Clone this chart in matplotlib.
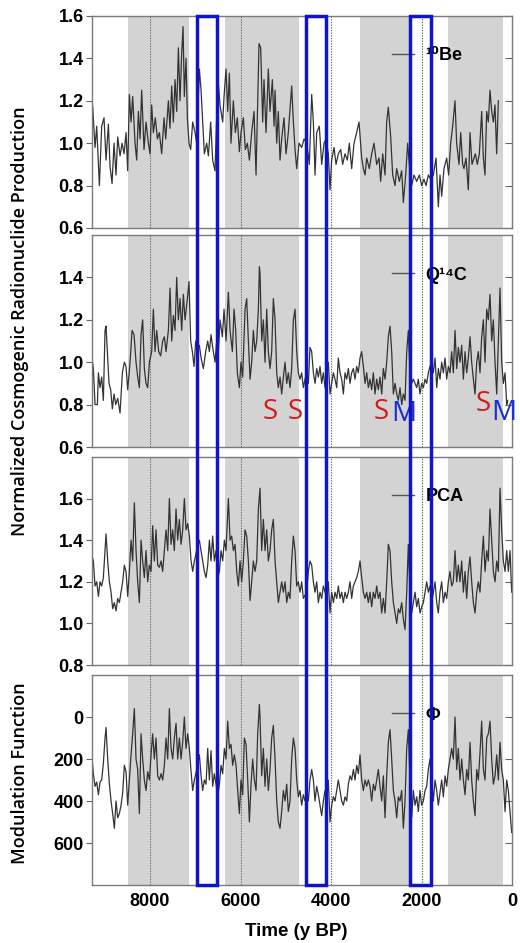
import matplotlib
matplotlib.use("Agg")
import matplotlib.pyplot as plt
from matplotlib.patches import Rectangle
import matplotlib.transforms as mtransforms

# ---- data (years BP, values) ----
be10_year = [9266, 9215, 9178, 9119, 9068, 9016, 8972, 8920, 8883, 8839, 8795, 8751, 8714, 8662, 8618, 8574,
             8530, 8493, 8456, 8419, 8383, 8331, 8294, 8257, 8220, 8184, 8132, 8088, 8036, 8000, 7963, 7926,
             7882, 7837, 7793, 7742, 7690, 7653, 7594, 7558, 7521, 7484, 7447, 7410, 7373, 7337, 7300, 7270,
             7241, 7204, 7174, 7138, 7101, 7057, 7005, 6968, 6909, 6872, 6836, 6799, 6747, 6710, 6659, 6615,
             6563, 6526, 6489, 6453, 6394, 6364, 6320, 6283, 6246, 6210, 6158, 6114, 6070, 6025, 5989, 5937,
             5893, 5849, 5804, 5753, 5701, 5657, 5620, 5591,
             5554, 5510, 5480, 5436, 5385, 5348, 5296, 5259, 5237, 5200, 5164, 5127, 5090, 5038, 4994, 4943,
             4869, 4832, 4795, 4758, 4707, 4648, 4596, 4537, 4479, 4427, 4390, 4353, 4316, 4258, 4206, 4154,
             4110, 4059, 4022, 3985, 3933, 3889, 3838, 3786, 3742, 3690, 3639, 3595, 3543, 3491, 3433, 3381,
             3322, 3285, 3248, 3212, 3153, 3101, 3050, 2991, 2939, 2902, 2858, 2806, 2770, 2733, 2681, 2637,
             2585, 2549, 2490, 2438, 2401, 2350, 2306, 2269, 2217, 2166, 2107, 2048, 1996, 1945, 1900, 1849,
             1797, 1738, 1679, 1628, 1591, 1554, 1503, 1444, 1400, 1355, 1311, 1260, 1223, 1171, 1134, 1090,
             1061, 1017, 965, 928, 884, 854, 810, 766, 722, 670, 633, 597, 560, 523, 486, 449,
             412, 376, 339, 302]
be10_val = [1.17, 0.98, 1.08, 0.80, 1.08, 1.12, 0.92, 1.09, 0.89, 0.81, 1.00, 0.85, 1.03, 0.94, 1.00, 0.95,
            1.05, 0.87, 1.23, 1.10, 1.22, 1.00, 0.92, 1.15, 1.02, 1.25, 0.97, 1.10, 1.00, 0.95, 1.18, 1.05,
            1.12, 1.02, 1.05, 0.95, 1.12, 1.02, 1.20, 1.07, 1.27, 1.10, 1.30, 1.15, 1.45, 1.20, 1.42, 1.55,
            1.22, 1.40, 1.12, 1.00, 0.97, 1.10, 1.05, 1.00, 1.35, 1.25, 1.10, 0.95, 1.00, 0.94, 1.10, 0.92,
            0.87, 1.13, 1.28, 1.18, 1.10, 1.22, 1.35, 1.15, 1.33, 1.00, 1.20, 1.05, 1.12, 0.96, 1.05, 1.12,
            0.97, 1.00, 0.92, 1.05, 1.15, 0.85, 1.20, 1.47,
            1.45, 1.10, 1.30, 1.05, 1.35, 1.15, 1.30, 1.08, 1.25, 1.00, 1.15, 0.92, 1.02, 1.12, 0.95, 1.05,
            1.27, 1.10, 0.97, 0.88, 1.00, 0.98, 1.02, 1.00, 0.90, 1.23, 1.10, 0.85, 1.05, 1.08, 0.90, 1.00,
            1.02, 0.95, 0.78, 0.92, 0.98, 0.90, 0.95, 0.97, 0.90, 0.95, 0.92, 1.00, 0.88, 1.00, 1.05, 1.10,
            0.93, 0.88, 0.85, 0.93, 0.88, 0.95, 1.00, 0.90, 0.93, 0.82, 0.95, 0.85, 1.10, 1.17, 1.03, 0.85,
            0.80, 0.88, 0.82, 0.87, 0.72, 0.85, 1.00, 0.90, 0.80, 0.85, 0.82, 0.85, 0.80, 0.83, 0.80, 0.85,
            0.83, 0.85, 0.93, 0.70, 0.85, 0.75, 0.88, 0.93, 0.85, 1.00, 1.08, 1.20, 1.00, 0.90, 1.05, 0.90,
            0.88, 0.93, 0.78, 1.05, 0.90, 0.92, 0.95, 0.90, 0.95, 1.15, 0.93, 0.85, 1.15, 1.10, 1.25, 1.15,
            1.10, 1.18, 0.95, 1.20]

q14c_year = [9289, 9252, 9215, 9163, 9141, 9105, 9068, 9031, 8994, 8972, 8942, 8906, 8869, 8832, 8795, 8758,
             8714, 8662, 8611, 8567, 8530, 8493, 8441, 8397, 8353, 8309, 8272, 8235, 8198, 8162, 8125, 8088,
             8051, 8014, 7963, 7926, 7889, 7852, 7808, 7764, 7720, 7683, 7646, 7594, 7557, 7521, 7484, 7447,
             7410, 7373, 7336, 7300, 7263, 7226, 7174, 7138, 7101, 7064, 7027, 6990, 6954, 6909, 6872, 6821,
             6769, 6725, 6688, 6651, 6615, 6563, 6526, 6489, 6452, 6401, 6364, 6320, 6268, 6231, 6180, 6143,
             6106, 6070, 6025, 5989, 5952, 5900, 5863, 5826, 5789, 5753, 5716, 5679, 5642, 5605, 5583,
             5569, 5532, 5495, 5458, 5421, 5385, 5348, 5311, 5274, 5237, 5200, 5164, 5127, 5090, 5053, 5016,
             4979, 4943, 4906, 4869, 4832, 4795, 4758, 4722, 4685, 4648, 4611, 4574, 4537, 4501, 4464, 4427,
             4390, 4353, 4316, 4280, 4243, 4206, 4169, 4132, 4095, 4059, 4022, 3985, 3948, 3911, 3874, 3838,
             3801, 3764, 3727, 3690, 3653, 3617, 3580, 3543, 3506, 3469, 3432, 3396, 3359, 3322, 3285, 3248,
             3211, 3175, 3138, 3101, 3064, 3027, 2990, 2954, 2917, 2880, 2843, 2806, 2769, 2733, 2696, 2659,
             2622, 2585, 2548, 2512, 2475, 2438, 2401, 2364, 2327, 2291, 2254, 2217, 2180, 2106, 2070, 2033,
             1996, 1959, 1922, 1885, 1849, 1812, 1775, 1738, 1701, 1664, 1628, 1591, 1554, 1517, 1480, 1443,
             1407, 1370, 1333, 1296, 1259, 1222, 1186, 1149, 1112, 1075, 1038, 1001, 965, 928, 891, 854,
             817, 780, 744, 707, 670, 633, 596, 559, 523, 486, 449, 412, 375, 338, 302, 265,
             228, 191, 154, 117, 95]
q14c_val = [1.03, 0.97, 0.80, 0.80, 0.95, 0.88, 0.93, 0.82, 1.15, 1.17, 1.05, 0.90, 0.87, 0.78, 0.85, 0.80,
            0.83, 0.76, 0.95, 1.00, 0.98, 0.87, 1.00, 1.15, 1.13, 1.00, 0.93, 0.88, 1.13, 1.20, 0.97, 0.90,
            0.88, 1.00, 1.05, 1.25, 1.05, 1.15, 1.05, 1.03, 1.10, 1.12, 1.05, 1.15, 1.35, 1.10, 1.22, 1.15,
            1.40, 1.20, 1.30, 1.15, 1.32, 1.20, 1.30, 1.38, 1.10, 1.05, 0.98, 1.10, 1.05, 1.08, 1.02, 0.97,
            1.05, 1.10, 1.05, 1.13, 1.07, 1.00, 1.10, 1.05, 1.20, 1.12, 1.25, 1.10, 1.33, 1.15, 1.05, 1.25,
            1.15, 0.95, 0.88, 1.00, 0.93, 1.25, 1.30, 1.10, 0.92, 1.00, 1.15, 1.05, 1.10, 1.25, 1.45,
            1.42, 1.10, 1.20, 1.00, 1.25, 1.05, 0.97, 1.05, 1.30, 1.20, 0.95, 0.88, 0.93, 0.85, 0.93, 1.00,
            0.90, 0.95, 0.88, 0.97, 1.20, 1.25, 1.05, 0.95, 0.92, 0.95, 0.88, 0.92, 0.95, 0.90, 1.07, 1.05,
            0.95, 0.90, 0.97, 0.93, 0.98, 0.90, 0.95, 0.88, 0.97, 1.00, 0.85, 0.90, 0.95, 0.92, 0.88, 1.02,
            0.95, 0.92, 0.85, 0.95, 0.92, 0.97, 0.90, 0.95, 0.97, 0.92, 0.98, 0.95, 1.02, 1.05, 0.98, 0.90,
            0.95, 0.88, 0.92, 0.87, 0.95, 0.85, 0.92, 0.87, 0.93, 0.85, 0.97, 0.92, 1.00, 1.12, 1.17, 1.05,
            0.85, 0.90, 0.85, 0.82, 0.88, 0.80, 0.85, 0.82, 1.05, 1.15, 0.95, 0.90, 0.92, 0.88, 0.92, 0.85,
            0.90, 0.88, 0.92, 0.90, 0.95, 0.98, 1.00, 0.95, 1.02, 0.88, 0.97, 0.92, 1.00, 0.95, 1.02, 0.92,
            0.98, 0.95, 1.05, 0.95, 1.15, 0.97, 1.07, 1.00, 1.08, 0.92, 1.05, 0.95, 1.02, 1.12, 1.00, 0.92,
            0.85, 1.00, 1.05, 0.95, 1.12, 1.20, 1.00, 1.25, 1.20, 1.32, 1.10, 1.20, 1.00, 0.85, 1.10, 1.35,
            1.00, 0.90, 0.95, 0.80, 0.82]

pca_year = [9289, 9252, 9215, 9178, 9141, 9105, 9068, 9031, 8994, 8972, 8935, 8898, 8861, 8825, 8788, 8751,
            8714, 8677, 8640, 8604, 8567, 8530, 8493, 8456, 8419, 8383, 8346, 8309, 8272, 8235, 8198, 8162,
            8125, 8088, 8051, 8014, 7977, 7941, 7904, 7867, 7830, 7793, 7756, 7720, 7683, 7646, 7609, 7572,
            7535, 7499, 7462, 7425, 7388, 7351, 7314, 7278, 7241, 7204, 7167, 7130, 7093, 7057, 7020, 6968,
            6909, 6872, 6836, 6799, 6762, 6725, 6688, 6651, 6615, 6578, 6541, 6504, 6467, 6430, 6394, 6357,
            6320, 6268, 6231, 6195, 6158, 6121, 6084, 6047, 6010, 5974, 5937, 5900, 5863, 5826, 5789, 5753,
            5716, 5679, 5642, 5605,
            5569, 5532, 5495, 5458, 5421, 5385, 5348, 5311, 5274, 5237, 5200, 5164, 5127, 5090, 5053, 5016,
            4979, 4943, 4906, 4869, 4832, 4795, 4758, 4722, 4685, 4648, 4611, 4537, 4501, 4464, 4427, 4390,
            4353, 4316, 4280, 4243, 4206, 4169, 4132, 4095, 4059, 4022, 3985, 3948, 3911, 3874, 3838, 3801,
            3764, 3727, 3690, 3653, 3617, 3580, 3543, 3506, 3469, 3432, 3396, 3359, 3322, 3285, 3248, 3211,
            3175, 3138, 3101, 3064, 3027, 2990, 2954, 2917, 2880, 2843, 2806, 2769, 2733, 2696, 2659, 2622,
            2585, 2548, 2512, 2475, 2438, 2401, 2364, 2327, 2291, 2254, 2217, 2180, 2143, 2106, 2070, 2033,
            1996, 1959, 1922, 1885, 1849, 1812, 1775, 1738, 1701, 1664, 1628, 1591, 1554, 1517, 1480, 1443,
            1407, 1370, 1333, 1296, 1259, 1222, 1186, 1149, 1112, 1075, 1038, 1001, 965, 928, 891, 854,
            817, 780, 744, 707, 670, 633, 596, 559, 523, 486, 449, 412, 375, 338, 302, 265,
            228, 191, 154, 117, 81, 44, 7]
pca_val = [1.33, 1.30, 1.18, 1.20, 1.13, 1.20, 1.18, 1.22, 1.35, 1.43, 1.30, 1.20, 1.15, 1.07, 1.10, 1.06,
           1.12, 1.10, 1.15, 1.20, 1.28, 1.25, 1.13, 1.25, 1.40, 1.30, 1.58, 1.35, 1.20, 1.10, 1.40, 1.30,
           1.22, 1.35, 1.20, 1.28, 1.25, 1.47, 1.30, 1.45, 1.28, 1.27, 1.30, 1.25, 1.35, 1.45, 1.35, 1.60,
           1.38, 1.45, 1.35, 1.55, 1.40, 1.50, 1.38, 1.45, 1.60, 1.45, 1.48, 1.42, 1.30, 1.25, 1.30, 1.35,
           1.40, 1.35, 1.30, 1.25, 1.22, 1.28, 1.40, 1.30, 1.42, 1.30, 1.35, 1.22, 1.25, 1.35, 1.30, 1.40,
           1.35, 1.60, 1.40, 1.42, 1.35, 1.38, 1.25, 1.18, 1.30, 1.20, 1.30, 1.45, 1.42, 1.30, 1.11, 1.20,
           1.30, 1.25, 1.30, 1.55,
           1.65, 1.35, 1.50, 1.35, 1.45, 1.30, 1.35, 1.45, 1.50, 1.30, 1.20, 1.10, 1.15, 1.20, 1.15, 1.20,
           1.10, 1.15, 1.12, 1.30, 1.42, 1.35, 1.18, 1.20, 1.15, 1.20, 1.12, 1.15, 1.25, 1.30, 1.28, 1.20,
           1.15, 1.20, 1.10, 1.15, 1.12, 1.18, 1.15, 1.12, 1.20, 1.05, 1.15, 1.10, 1.15, 1.12, 1.18, 1.12,
           1.15, 1.10, 1.15, 1.12, 1.15, 1.20, 1.12, 1.18, 1.20, 1.22, 1.25, 1.30, 1.22, 1.15, 1.12, 1.15,
           1.10, 1.15, 1.08, 1.15, 1.12, 1.18, 1.12, 1.15, 1.05, 1.12, 1.05, 1.20, 1.38, 1.35, 1.20, 1.10,
           1.05, 1.00, 1.07, 1.05, 1.10, 1.02, 0.97, 1.15, 1.38, 1.15, 1.05, 1.10, 1.15, 1.08, 1.12, 1.05,
           1.08, 1.10, 1.15, 1.20, 1.15, 1.18, 1.10, 1.15, 1.20, 1.10, 1.05, 1.15, 1.20, 1.10, 1.15, 1.12,
           1.20, 1.25, 1.18, 1.20, 1.35, 1.20, 1.28, 1.20, 1.30, 1.15, 1.25, 1.12, 1.25, 1.32, 1.20, 1.10,
           1.05, 1.15, 1.20, 1.15, 1.30, 1.42, 1.25, 1.35, 1.30, 1.55, 1.40, 1.25, 1.20, 1.30, 1.25, 1.65,
           1.45, 1.30, 1.25, 1.35, 1.25, 1.35, 1.15]

phi_year = [9289, 9252, 9215, 9178, 9141, 9105, 9068, 9031, 8994, 8972, 8935, 8898, 8861, 8825, 8788, 8751,
            8714, 8677, 8640, 8604, 8567, 8530, 8493, 8456, 8419, 8383, 8346, 8309, 8272, 8235, 8198, 8162,
            8125, 8088, 8051, 8014, 7977, 7941, 7904, 7867, 7830, 7793, 7756, 7720, 7683, 7646, 7609, 7572,
            7535, 7499, 7462, 7425, 7388, 7351, 7314, 7278, 7241, 7204, 7167, 7130, 7093, 7057, 7020, 6968,
            6909, 6872, 6836, 6799, 6762, 6725, 6688, 6651, 6615, 6578, 6541, 6504, 6467, 6430, 6394, 6357,
            6320, 6283, 6246, 6210, 6173, 6136, 6099, 6062, 6025, 5989, 5952, 5915, 5878, 5841, 5804, 5767,
            5731, 5694, 5657, 5620, 5583,
            5569, 5532, 5495, 5458, 5421, 5385, 5348, 5311, 5274, 5237, 5200, 5164, 5127, 5090, 5053, 5016,
            4979, 4943, 4906, 4869, 4832, 4795, 4758, 4722, 4685, 4648, 4611, 4574, 4537, 4501, 4464, 4427,
            4390, 4353, 4316, 4280, 4243, 4206, 4169, 4132, 4095, 4059, 4022, 3985, 3948, 3911, 3874, 3838,
            3801, 3764, 3727, 3690, 3653, 3617, 3580, 3543, 3506, 3469, 3432, 3396, 3359, 3322, 3285, 3248,
            3211, 3175, 3138, 3101, 3064, 3027, 2990, 2954, 2917, 2880, 2843, 2806, 2769, 2733, 2696, 2659,
            2622, 2585, 2548, 2512, 2475, 2438, 2401, 2364, 2327, 2291, 2254, 2217, 2180, 2143, 2106, 2070,
            2033, 1996, 1959, 1922, 1885, 1849, 1812, 1775, 1738, 1701, 1664, 1628, 1591, 1554, 1517, 1480,
            1443, 1407, 1370, 1333, 1296, 1259, 1222, 1186, 1149, 1112, 1075, 1038, 1001, 965, 928, 891,
            854, 817, 780, 744, 707, 670, 633, 596, 559, 523, 486, 449, 412, 375, 338, 302,
            265, 228, 191, 154, 117, 81, 44, 7]
phi_val = [170, 270, 330, 310, 370, 310, 300, 220, 100, 50, 200, 320, 400, 460, 530, 400,
           480, 460, 420, 360, 230, 260, 420, 300, 180, 80, -40, 200, 250, 460, 80, 200,
           300, 350, 260, 300, 180, 80, 200, 100, 280, 300, 270, 300, 230, 100, 200, -40,
           150, 200, 100, 30, 200, 100, 200, 120, 0, 150, 80, 150, 260, 350, 300, 250,
           180, 280, 350, 300, 320, 150, 300, 160, 330, 270, 320, 380, 320, 230, 270, 150,
           200, 20, 150, 130, 230, 180, 230, 350, 460, 300, 370, 100, 130, 300, 500, 320,
           200, 300, 350, 80, -60,
           0, 280, 150, 330, 200, 350, 250, 100, 40, 200, 400, 500, 530, 450, 350, 400,
           320, 450, 400, 200, 100, 150, 300, 380, 350, 420, 370, 400, 350, 400, 300, 250,
           300, 400, 330, 370, 420, 470, 400, 350, 380, 300, 500, 420, 380, 400, 350, 300,
           350, 400, 420, 380, 400, 320, 280, 300, 250, 300, 230, 270, 180, 300, 350, 300,
           330, 300, 330, 400, 320, 350, 300, 250, 330, 400, 280, 480, 280, 120, 60, 200,
           350, 400, 480, 380, 400, 350, 530, 400, 150, 60, 300, 480, 350, 420, 380, 450,
           350, 420, 400, 350, 330, 250, 200, 300, 400, 300, 350, 420, 360, 300, 380, 280,
           330, 250, 200, 150, 200, 0, 250, 150, 300, 200, 300, 370, 250, 300, 120, 300,
           400, 470, 250, 300, 170, 20, 250, 300, 100, 80, 20, 200, 320, 280, 180, 300,
           120, 250, 300, 450, 300, 350, 450, 550]

# shaded intervals and highlighted windows (years BP)
grey_bands = [(8490, 7135), (6350, 4715), (3350, 2260), (1410, 200)]
dotted_years = [8000, 6000, 4000, 2000]
blue_windows = [(6961, 6519), (4552, 4110), (2254, 1790)]
# grand-minimum markers on the Q14C panel: (label, year, value, colour)
minima_marks = [("S", 5348, 0.765, "#d41a1a"), ("S", 4796, 0.765, "#d41a1a"),
                ("S", 2880, 0.765, "#d41a1a"), ("M", 2400, 0.755, "#1a2fd0"),
                ("S", 641, 0.805, "#d41a1a"), ("M", 185, 0.76, "#1a2fd0")]

panels = [
    (be10_year, be10_val, "\u00b9\u2070Be", (0.6, 1.6), [0.6, 0.8, 1.0, 1.2, 1.4, 1.6]),
    (q14c_year, q14c_val, "Q\u00b9\u2074C", (0.6, 1.6), [0.6, 0.8, 1.0, 1.2, 1.4]),
    (pca_year, pca_val, "PCA", (0.8, 1.8), [0.8, 1.0, 1.2, 1.4, 1.6]),
    (phi_year, phi_val, "\u03a6", (800, -200), [0, 200, 400, 600]),
]

W, H = 520, 943
fig = plt.figure(figsize=(W / 100, H / 100), dpi=100)
# axes boxes in pixels: (top, bottom)
boxes = [(16, 228), (235, 447), (457, 665), (675, 885)]
left_px, right_px = 92, 512
sans = ["Liberation Sans", "DejaVu Sans"]

axes = []
for (yrs, vals, lab, ylim, yticks), (top, bot) in zip(panels, boxes):
    ax = fig.add_axes([left_px / W, 1 - bot / H, (right_px - left_px) / W, (bot - top) / H])
    for a, b in grey_bands:
        ax.axvspan(a, b, color="#d3d3d3", lw=0, zorder=0)
    for yr in dotted_years:
        ax.axvline(yr, color="#666666", lw=0.8, ls=(0, (1.2, 1.2)), zorder=1)
    ax.plot(yrs, vals, color="#333333", lw=0.9, zorder=2, label=lab)
    ax.set_xlim(9282, 0)
    ax.set_ylim(*ylim)
    ax.set_yticks(yticks)
    fmt = "{:.1f}" if ylim[0] < 1 else "{:.0f}"
    ax.set_yticklabels([fmt.format(t) for t in yticks], family=sans, weight="bold", size=13)
    ax.tick_params(axis="y", direction="out", length=4, width=0.8, color="#666666", pad=2)
    ax.tick_params(axis="x", length=0)
    # right-hand ticks point inward, without labels
    sec = ax.secondary_yaxis("right")
    sec.set_yticks(yticks)
    sec.tick_params(direction="in", length=5, width=0.8, color="#666666", labelright=False)
    sec.spines["right"].set_visible(False)
    for s in ax.spines.values():
        s.set_color("#7a7a7a")
        s.set_linewidth(1.0)
    leg = ax.legend(loc="center left", bbox_to_anchor=(0.714, 1 - 40 / (bot - top)),
                    frameon=False, handlelength=1.25, handletextpad=0.6,
                    borderpad=0, borderaxespad=0,
                    prop=dict(family=sans, weight="bold", size=13))
    for h in leg.get_lines():
        h.set_color("#555555")
        h.set_linewidth(1.0)
    axes.append(ax)

for ax in axes[:-1]:
    ax.set_xticklabels([])
axes[-1].set_xticks([8000, 6000, 4000, 2000, 0])
axes[-1].set_xticklabels(["8000", "6000", "4000", "2000", "0"], family=sans, weight="bold", size=13)
axes[-1].tick_params(axis="x", pad=6)

# S / M markers on the Q14C panel
for txt, yr, v, c in minima_marks:
    axes[1].text(yr, v, txt, color=c, fontsize=20, family="Open Sans",
                 ha="center", va="center", zorder=5)

# blue highlight windows running through all four panels
trans = mtransforms.blended_transform_factory(axes[-1].transData, fig.transFigure)
y0 = 1 - boxes[-1][1] / H
y1 = 1 - boxes[0][0] / H
for a, b in blue_windows:
    fig.add_artist(Rectangle((a, y0), b - a, y1 - y0, transform=trans, fill=False,
                             edgecolor="#0f14cc", lw=2.5, zorder=10, clip_on=False))

fig.text(20 / W, 1 - 321 / H, "Normalized Cosmogenic Radionuclide Production",
         rotation=90, ha="center", va="center", fontsize=13, family="Open Sans", weight="semibold")
fig.text(20 / W, 1 - 773 / H, "Modulation Function",
         rotation=90, ha="center", va="center", fontsize=13, family="Open Sans", weight="semibold")
fig.text(296 / W, 1 - 931 / H, "Time (y BP)", ha="center", va="center",
         fontsize=13.5, family=sans, weight="bold")

fig.savefig("out.png", dpi=100)
